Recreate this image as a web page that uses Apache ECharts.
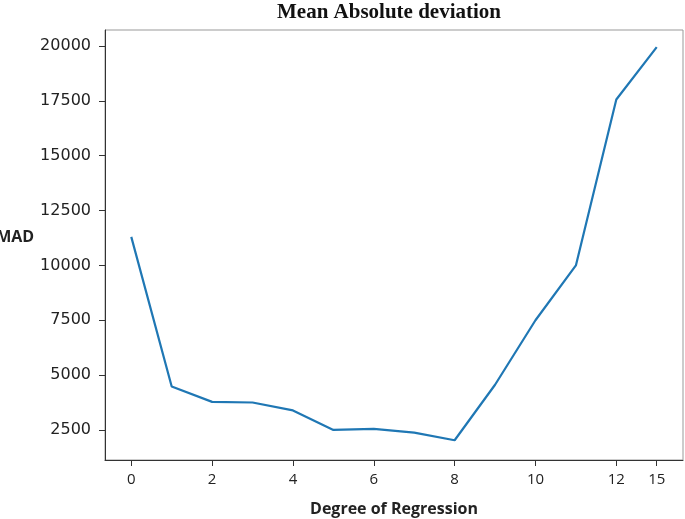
<!DOCTYPE html>
<html>
<head>
<meta charset="utf-8">
<script src="https://cdn.jsdelivr.net/npm/echarts@6/dist/echarts.min.js"></script>
<style>
  html, body { margin: 0; padding: 0; background: #fff; }
  #chart { width: 685px; height: 519px; }
</style>
</head>
<body>
<div id="chart"></div>
<script>
// degree of regression (the last point is drawn one step after 12)
var degrees = [0, 1, 2, 3, 4, 5, 6, 7, 8, 9, 10, 11, 12, 15];
var madValues = [11300, 4480, 3780, 3750, 3390, 2500, 2550, 2380, 2030, 4560, 7500, 10000, 17560, 19950];
var xTickIndex = [0, 2, 4, 6, 8, 10, 12, 13];
var yTicks = [2500, 5000, 7500, 10000, 12500, 15000, 17500, 20000];

var points = madValues.map(function (v, i) { return [i, v]; });

var chart = echarts.init(document.getElementById('chart'));
var option = {
  animation: false,
  title: {
    text: 'Mean Absolute deviation',
    left: 384,
    top: -3,
    textAlign: 'center',
    textStyle: {
      fontFamily: 'Liberation Serif',
      fontWeight: 'bold',
      fontSize: 21,
      color: '#111'
    }
  },
  grid: {
    left: 105,
    top: 30,
    right: 2,
    bottom: 59,
    outerBoundsMode: 'none',
    containLabel: false,
    show: true,
    borderColor: '#999',
    borderWidth: 1
  },
  xAxis: {
    type: 'value',
    min: -0.65,
    max: 13.65,
    name: 'Degree of Regression',
    nameLocation: 'middle',
    nameGap: 41,
    nameTextStyle: {
      fontFamily: 'Open Sans',
      fontWeight: 'bold',
      fontSize: 16,
      color: '#222'
    },
    axisLine: { show: true, onZero: false, lineStyle: { color: '#333', width: 1 } },
    axisTick: { show: true, length: 6, customValues: xTickIndex, lineStyle: { color: '#333' } },
    axisLabel: {
      customValues: xTickIndex,
      fontFamily: 'Open Sans',
      fontSize: 15,
      color: '#222',
      margin: 12,
      formatter: function (v) { return String(degrees[Math.round(v)]); }
    },
    splitLine: { show: false }
  },
  yAxis: {
    type: 'value',
    min: 1130,
    max: 20730,
    name: 'MAD',
    nameLocation: 'middle',
    nameRotate: 0,
    nameGap: 66,
    nameTextStyle: {
      fontFamily: 'Open Sans',
      fontWeight: 'bold',
      fontSize: 16,
      color: '#222',
      verticalAlign: 'bottom'
    },
    axisLine: { show: true, onZero: false, lineStyle: { color: '#333', width: 1 } },
    axisTick: { show: true, length: 6, customValues: yTicks, lineStyle: { color: '#333' } },
    axisLabel: {
      customValues: yTicks,
      fontFamily: 'DejaVu Sans',
      fontSize: 16,
      color: '#222',
      margin: 14,
      formatter: function (v) { return String(v); }
    },
    splitLine: { show: false }
  },
  series: [{
    type: 'line',
    data: points,
    showSymbol: false,
    lineStyle: { color: '#1f77b4', width: 2.2 },
    itemStyle: { color: '#1f77b4' }
  }]
};
chart.setOption(option);
</script>
</body>
</html>
